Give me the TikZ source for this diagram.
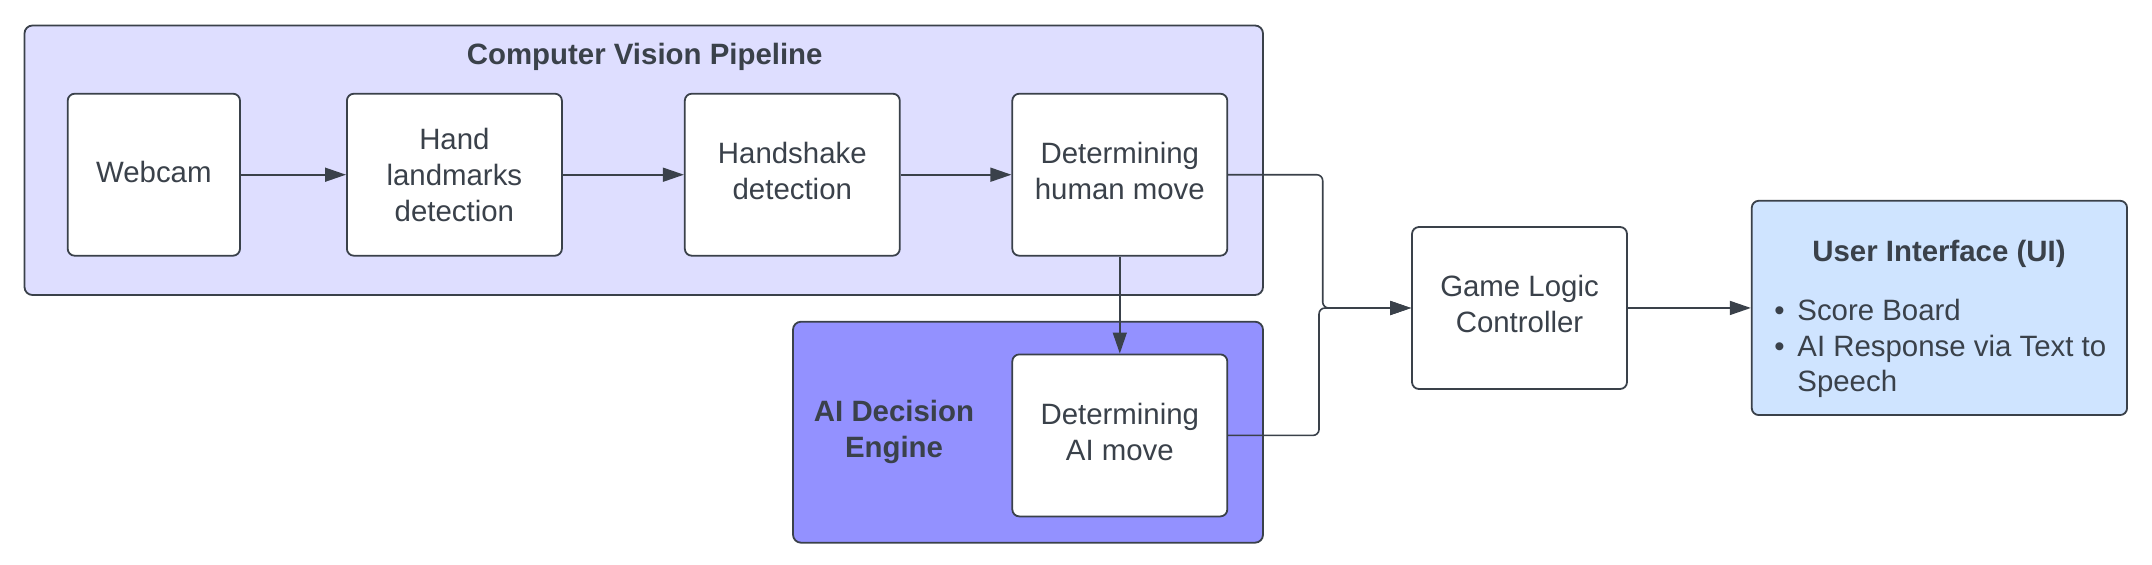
\documentclass[tikz,border=0pt]{standalone}
\usepackage{fontspec}
\setmainfont{Liberation Sans}
\usetikzlibrary{arrows.meta}
\definecolor{ink}{HTML}{3A414A}
\definecolor{cvfill}{HTML}{DEDEFF}
\definecolor{aifill}{HTML}{9391FF}
\definecolor{uifill}{HTML}{CFE4FF}
\newcommand{\liftby}[1]{\rule[-#1]{0pt}{#1}}
\begin{document}
\begin{tikzpicture}[x=0.5pt,y=-0.5pt,
  font=\fontsize{14.7}{18}\selectfont, text=ink,
  container/.style={draw=ink, line width=0.9pt, rounded corners=4pt, inner sep=0pt},
  procbox/.style={draw=ink, fill=white, line width=0.9pt, rounded corners=3.5pt,
    align=center, inner sep=0pt, minimum width=107.5pt, minimum height=81pt},
  titletext/.style={font=\fontsize{14.7}{18}\selectfont\bfseries, align=center, inner sep=0pt},
  conn/.style={draw=ink, line width=0.8pt, rounded corners=3pt,
    -{Triangle[length=10.5pt,width=7pt]}},
  listtext/.style={anchor=base west, inner sep=0pt}
]
\useasboundingbox (0,0) rectangle (2152,564);

% containers
\node[container, fill=cvfill, minimum width=619.25pt, minimum height=134.75pt] (cv) at (643.75,160.25) {};
\node[titletext] (cvtitle) at (644.7,56.7) {Computer Vision Pipeline};

\node[container, fill=aifill, minimum width=235pt, minimum height=110.5pt] (ai) at (1028,432.2) {};
\node[titletext] (aititle) at (894,432) {AI Decision\\Engine};

% process boxes
\node[procbox, minimum width=86.15pt] (webcam) at (153.85,174.7) {Webcam\liftby{2.7pt}};
\node[procbox] (hand) at (454.4,174.7) {Hand\\landmarks\\detection};
\node[procbox] (shake) at (792.3,174.7) {Handshake\\detection\liftby{4pt}};
\node[procbox] (human) at (1119.8,174.7) {Determining\\human move\liftby{4pt}};
\node[procbox] (aimove) at (1119.8,435.4) {Determining\\AI move\liftby{4pt}};
\node[procbox] (glc) at (1519.5,308) {Game Logic\\Controller\liftby{4pt}};

% UI box
\node[container, fill=uifill, rounded corners=3.5pt, minimum width=187.65pt, minimum height=107.15pt] (ui) at (1939.4,307.9) {};
\node[titletext, anchor=base] (uititle) at (1939,261) {User Interface (UI)};
\node[listtext] (b1) at (1774,320) {•};
\node[listtext] (l1) at (1797,320) {Score Board};
\node[listtext] (b2) at (1774,356.7) {•};
\node[listtext] (l2) at (1797,356.7) {AI Response via Text to};
\node[listtext] (l3) at (1797,391.7) {Speech};

% connectors
\draw[conn] (webcam) -- (hand);
\draw[conn] (hand) -- (shake);
\draw[conn] (shake) -- (human);
\draw[conn, line width=0.7pt] (human.south) -- (aimove.north);
\coordinate (j1) at (1322.7,174.7);
\coordinate (j2) at (1319,435.4);
\draw[conn] (human.east) -| (j1 |- glc.west) -- (glc.west);
\draw[conn] (aimove.east) -| (j2 |- glc.west) -- (glc.west);
\draw[conn] (glc) -- (ui);
\end{tikzpicture}
\end{document}
